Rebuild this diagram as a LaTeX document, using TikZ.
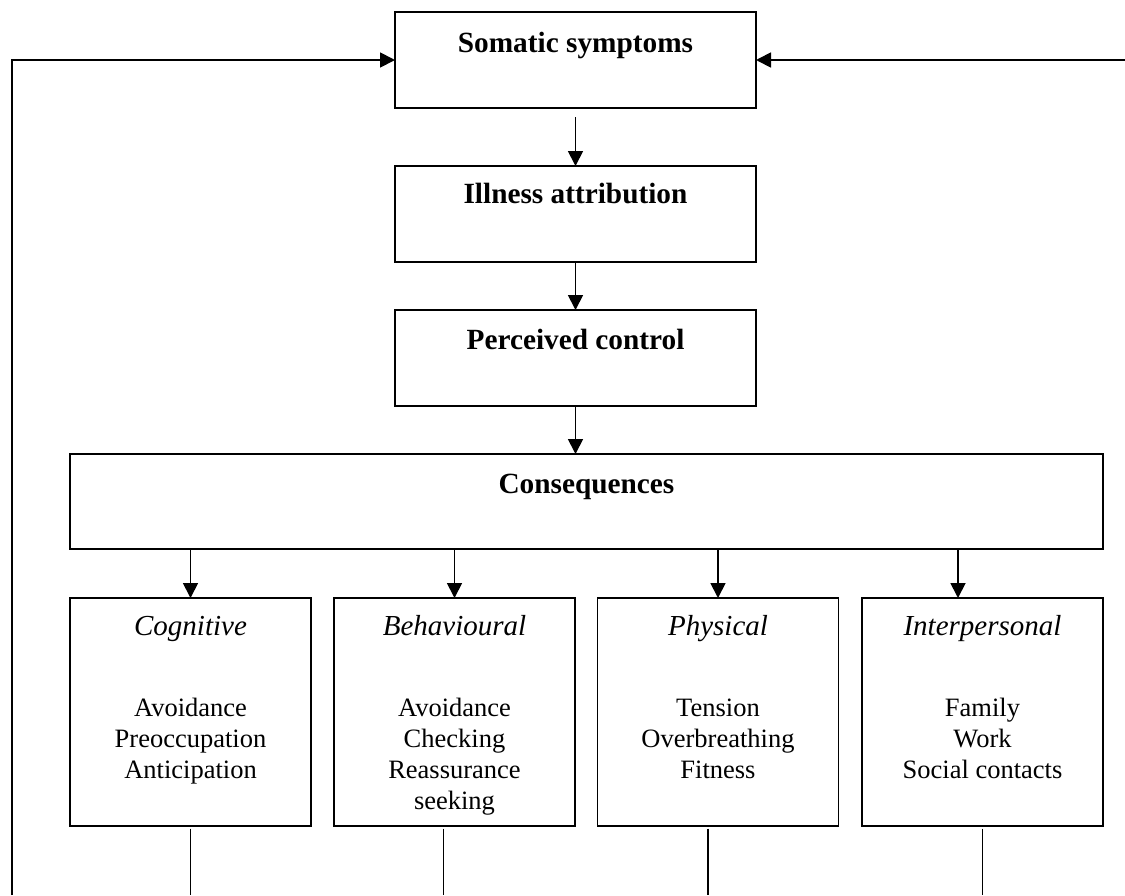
\documentclass[tikz,border=0pt]{standalone}
\usepackage{fontspec}
\setmainfont{Liberation Serif}
\usetikzlibrary{arrows.meta}
\newcommand\bxcontent[4]{\begin{minipage}[c][#2][t]{#1}\centering\rule{0pt}{#3}#4\end{minipage}}
\tikzset{
  box/.style={draw, line width=1.9pt, inner sep=0pt, outer sep=0pt},
  arr/.style={line width=1.8pt, -{Triangle[length=15pt,width=15pt]}},
  plain/.style={line width=1.8pt},
}
\newcommand\bfsz{\fontsize{29.3}{31}\selectfont\bfseries}
\newcommand\itsz{\fontsize{29}{31}\selectfont\itshape}
\newcommand\rmsz{\fontsize{26.5}{31}\selectfont\upshape}
\begin{document}
\begin{tikzpicture}[x=1pt,y=-1pt]
\useasboundingbox[fill=white] (0,0) rectangle (1125,895);
\node[box] (som) at (575.5,60) {\bxcontent{361pt}{96pt}{40pt}{\bfsz Somatic symptoms}};
\node[box] (ill) at (575.5,214) {\bxcontent{361pt}{96pt}{37pt}{\bfsz Illness attribution}};
\node[box] (per) at (575.5,358) {\bxcontent{361pt}{96pt}{39pt}{\bfsz Perceived control}};
\node[box] (cons) at (586.5,501.5) {\bxcontent{1033pt}{95pt}{39pt}{\bfsz Consequences}};
\node[box] (cog) at (190.5,712) {\bxcontent{241pt}{228pt}{37pt}{\itsz Cognitive\\[50pt]\rmsz Avoidance\\Preoccupation\\Anticipation}};
\node[box] (beh) at (454.5,712) {\bxcontent{241pt}{228pt}{37pt}{\itsz Behavioural\\[50pt]\rmsz Avoidance\\Checking\\Reassurance\\seeking}};
\node[box] (phys) at (718,712) {\bxcontent{241pt}{228pt}{37pt}{\itsz Physical\\[50pt]\rmsz Tension\\Overbreathing\\Fitness}};
\node[box] (inter) at (982.5,712) {\bxcontent{241pt}{228pt}{37pt}{\itsz Interpersonal\\[50pt]\rmsz Family\\Work\\Social contacts}};
\coordinate (bot) at (0,895);
\coordinate (fbl) at (12,895);
\coordinate (fbr) at (1125,60);
% main chain
\draw[arr, shorten <=9pt] (som) -- (ill);
\draw[arr] (ill) -- (per);
\draw[arr] (per.south) -- (per.south |- cons.north);
% consequences to categories
\draw[arr] (cog.north |- cons.south) -- (cog.north);
\draw[arr] (beh.north |- cons.south) -- (beh.north);
\draw[arr] (phys.north |- cons.south) -- (phys.north);
\draw[arr] ([xshift=-24.5pt]inter.north |- cons.south) -- ([xshift=-24.5pt]inter.north);
% lines down from categories
\draw[plain] ([yshift=-2.5pt]cog.south) -- (cog.south |- bot);
\draw[plain] ([xshift=-11pt,yshift=-2.5pt]beh.south) -- ([xshift=-11pt]beh.south |- bot);
\draw[plain] ([xshift=-10pt,yshift=-2.5pt]phys.south) -- ([xshift=-10pt]phys.south |- bot);
\draw[plain] ([yshift=-2.5pt]inter.south) -- (inter.south |- bot);
% feedback loops
\draw[arr] (fbl) |- (som.west);
\draw[arr] (fbr) -- (som.east);
\end{tikzpicture}
\end{document}
